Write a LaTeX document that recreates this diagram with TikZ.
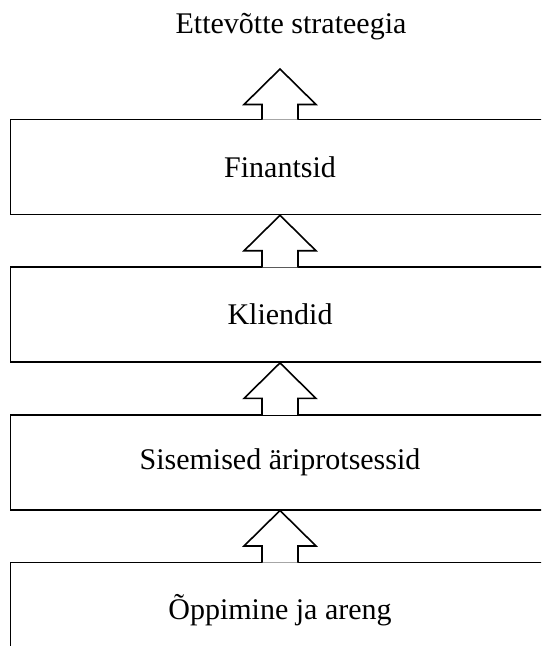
\documentclass[tikz,border=0pt]{standalone}
\usepackage{fontspec}
\setmainfont{Liberation Serif}
\usetikzlibrary{positioning, calc}
% hollow block arrow from the top of #1 up to #2
\newcommand\blockup[2]{%
  \filldraw[ua] let \p1=(#1.north), \p2=(#2) in
    (\x1-9pt,\y1-0.5pt) -- (\x1-9pt,\y2-17.75pt) -- (\x1-18pt,\y2-17.75pt) -- (\x1,\y2)
    -- (\x1+18pt,\y2-17.75pt) -- (\x1+9pt,\y2-17.75pt) -- (\x1+9pt,\y1-0.5pt);}

\begin{document}
\begin{tikzpicture}[x=0.5pt, y=-0.5pt, node distance=25.5pt,
  font=\fontsize{15}{18}\selectfont,
  b/.style={rectangle, draw=black, line width=0.8pt, minimum width=269.5pt,
            minimum height=47.5pt, inner sep=0pt},
  ua/.style={fill=white, draw=black, line width=0.8pt, line join=miter}]
\clip (0,0) rectangle (541,646);
\node (goal) at (291,27) {Ettevõtte strateegia};
\coordinate (tip) at (280,69);
\node[b] (fin) at (280,167) {Finantsid};
\node[b, below=of fin] (kl) {Kliendid};
\node[b, below=of kl] (sis) {Sisemised äriprotsessid};
\node[b, below=of sis] (opp) {Õppimine ja areng};
\blockup{fin}{tip}
\blockup{kl}{fin.south}
\blockup{sis}{kl.south}
\blockup{opp}{sis.south}
\end{tikzpicture}
\end{document}
